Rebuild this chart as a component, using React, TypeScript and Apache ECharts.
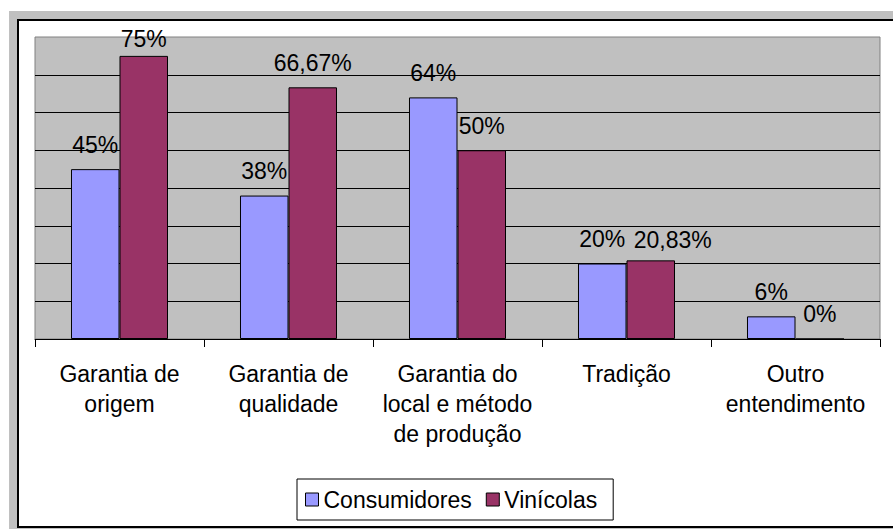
import React, { useEffect, useRef } from "react";
import * as echarts from "echarts";

const categories = [
  "Garantia de\norigem",
  "Garantia de\nqualidade",
  "Garantia do\nlocal e método\nde produção",
  "Tradição",
  "Outro\nentendimento",
];
const consumidores = [45, 38, 64, 20, 6];
const vinicolas = [75, 66.67, 50, 20.83, 0];
const yTicks = [0, 10, 20, 30, 40, 50, 60, 70, 80];

const FONT = "'Liberation Sans', Arial, sans-serif";

const fmt = (v: number) => String(v).replace(".", ",") + "%";

export default function App() {
  const ref = useRef<HTMLDivElement>(null);
  useEffect(() => {
    if (!ref.current) return;
    const chart = echarts.init(ref.current, null, { renderer: "svg" });
    const labelStyle = {
      show: true,
      position: "top" as const,
      distance: 13,
      fontSize: 23,
      lineHeight: 23,
      fontFamily: FONT,
      color: "#000",
      formatter: (p: any) => fmt(p.value),
    };
    const vinLabelOverrides: Record<number, any> = {
      0: { distance: 5 },
      3: { distance: 9, offset: [22, 0] },
    };
    chart.setOption({
      animation: false,
      backgroundColor: "#fff",
      graphic: [
        {
          type: "rect",
          z: -10,
          shape: { x: 9, y: 11, width: 900, height: 530 },
          style: { fill: "#C0C0C0" },
          silent: true,
        },
        {
          type: "rect",
          z: -9,
          shape: { x: 18, y: 20, width: 900, height: 507 },
          style: { fill: "#fff", stroke: "#000", lineWidth: 2 },
          silent: true,
        },
      ],
      grid: {
        left: 35,
        top: 37,
        right: 13,
        bottom: 190,
        show: true,
        backgroundColor: "#C0C0C0",
        borderColor: "#808080",
        borderWidth: 1,
        z: 0,
      },
      legend: {
        left: 297,
        top: 479,
        orient: "horizontal",
        padding: [9, 16, 9, 8],
        borderColor: "#000",
        borderWidth: 1,
        backgroundColor: "#fff",
        itemWidth: 13,
        itemHeight: 13,
        itemGap: 14,
        icon: "rect",
        textStyle: { fontSize: 23, fontFamily: FONT, color: "#000" },
        data: [
          { name: "Consumidores", itemStyle: { borderColor: "#000", borderWidth: 1 } },
          { name: "Vinícolas", itemStyle: { borderColor: "#000", borderWidth: 1 } },
        ],
      },
      xAxis: {
        type: "category",
        data: categories,
        axisLine: { show: true, lineStyle: { color: "#000", width: 1 } },
        axisTick: { show: true, length: 8, lineStyle: { color: "#000" } },
        axisLabel: {
          margin: 20,
          fontSize: 23,
          lineHeight: 30,
          fontFamily: FONT,
          color: "#000",
          interval: 0,
          align: "center",
        },
      },
      yAxis: {
        type: "value",
        min: yTicks[0],
        max: yTicks[yTicks.length - 1],
        interval: yTicks[1] - yTicks[0],
        axisLine: { show: false },
        axisTick: { show: false },
        axisLabel: { show: false },
        splitLine: {
          show: true,
          showMinLine: false,
          showMaxLine: false,
          lineStyle: { color: "#000", width: 1 },
        },
      },
      series: [
        {
          name: "Consumidores",
          type: "bar",
          data: consumidores,
          barGap: "0%",
          barCategoryGap: "42.6%",
          itemStyle: { color: "#9999FF", borderColor: "#000", borderWidth: 1 },
          label: labelStyle,
        },
        {
          name: "Vinícolas",
          type: "bar",
          data: vinicolas.map((v, i) =>
            vinLabelOverrides[i] ? { value: v, label: vinLabelOverrides[i] } : v
          ),
          itemStyle: { color: "#993366", borderColor: "#000", borderWidth: 1 },
          label: labelStyle,
        },
      ],
    });
    return () => chart.dispose();
  }, []);
  return (
    <div
      ref={ref}
      style={{ position: "fixed", left: 0, top: 0, width: 893, height: 529 }}
    />
  );
}
